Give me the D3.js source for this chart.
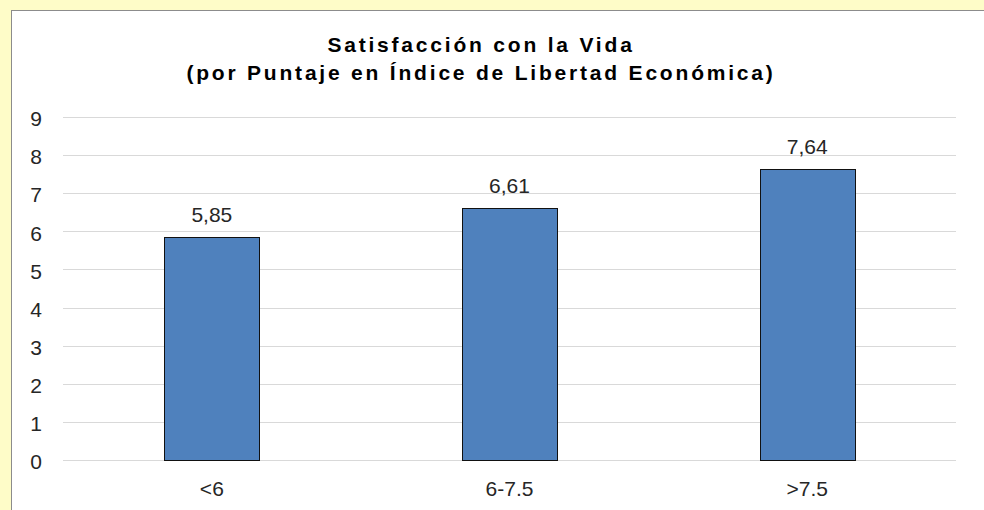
<!DOCTYPE html>
<html>
<head>
<meta charset="utf-8">
<script src="https://cdn.jsdelivr.net/npm/d3@7"></script>
<style>
  body { margin: 0; background: #fefcc8; }
  svg { display: block; }
  text { font-family: "Liberation Sans", Arial, sans-serif; }
</style>
</head>
<body>
<svg width="984" height="510"></svg>
<script>
var categories = ["<6", "6-7.5", ">7.5"];
var values = [5.85, 6.61, 7.64];
var valueLabels = ["5,85", "6,61", "7,64"];
var yTicks = [0, 1, 2, 3, 4, 5, 6, 7, 8, 9];
var titleLines = ["Satisfacción con la Vida", "(por Puntaje en Índice de Libertad Económica)"];

var svg = d3.select("svg");

// white chart area with a grey edge on top and left
svg.append("rect").attr("x", 11.5).attr("y", 10.5).attr("width", 990).attr("height", 520)
  .attr("fill", "#ffffff").attr("stroke", "#8c8c8c").attr("stroke-width", 1);

var x = d3.scaleBand().domain(categories).range([63, 956]).paddingInner(0.68).paddingOuter(0.34);
var y = d3.scaleLinear().domain([0, 9]).range([460, 117]);

// grid
svg.append("g").selectAll("line").data(yTicks).enter().append("line")
  .attr("x1", 63).attr("x2", 956)
  .attr("y1", d => Math.round(y(d)) + 0.5).attr("y2", d => Math.round(y(d)) + 0.5)
  .attr("stroke", "#d9d9d9").attr("stroke-width", 1);

// y labels
var yAxis = svg.append("g").attr("transform", "translate(42,2)")
  .call(d3.axisLeft(y).tickValues(yTicks).tickSize(0).tickPadding(0));
yAxis.select(".domain").remove();
yAxis.selectAll("text").attr("font-size", 21).attr("fill", "#262626")
  .attr("font-family", "'Liberation Sans', Arial, sans-serif");

// x labels
var xAxis = svg.append("g").attr("transform", "translate(0,470)")
  .call(d3.axisBottom(x).tickSize(0).tickPadding(11));
xAxis.select(".domain").remove();
xAxis.selectAll("text").attr("font-size", 21).attr("fill", "#262626")
  .attr("font-family", "'Liberation Sans', Arial, sans-serif");

// bars
svg.append("g").selectAll("rect").data(values).enter().append("rect")
  .attr("x", (d, i) => Math.round(x(categories[i])) + 0.5)
  .attr("y", d => Math.round(y(d)) + 0.5)
  .attr("width", Math.round(x.bandwidth()))
  .attr("height", d => Math.round(y(0)) - Math.round(y(d)))
  .attr("fill", "#4f81bd").attr("stroke", "#111111").attr("stroke-width", 1);

// value labels
svg.append("g").selectAll("text").data(values).enter().append("text")
  .attr("x", (d, i) => x(categories[i]) + x.bandwidth() / 2)
  .attr("y", d => y(d) - 15)
  .attr("text-anchor", "middle").attr("font-size", 21).attr("fill", "#262626")
  .text((d, i) => valueLabels[i]);

// title
svg.append("g").selectAll("text").data(titleLines).enter().append("text")
  .attr("x", 481).attr("y", (d, i) => 52 + i * 28)
  .attr("text-anchor", "middle").attr("font-size", 21).attr("font-weight", "bold")
  .attr("letter-spacing", 2.8).attr("fill", "#000")
  .text(d => d);
</script>
</body>
</html>
